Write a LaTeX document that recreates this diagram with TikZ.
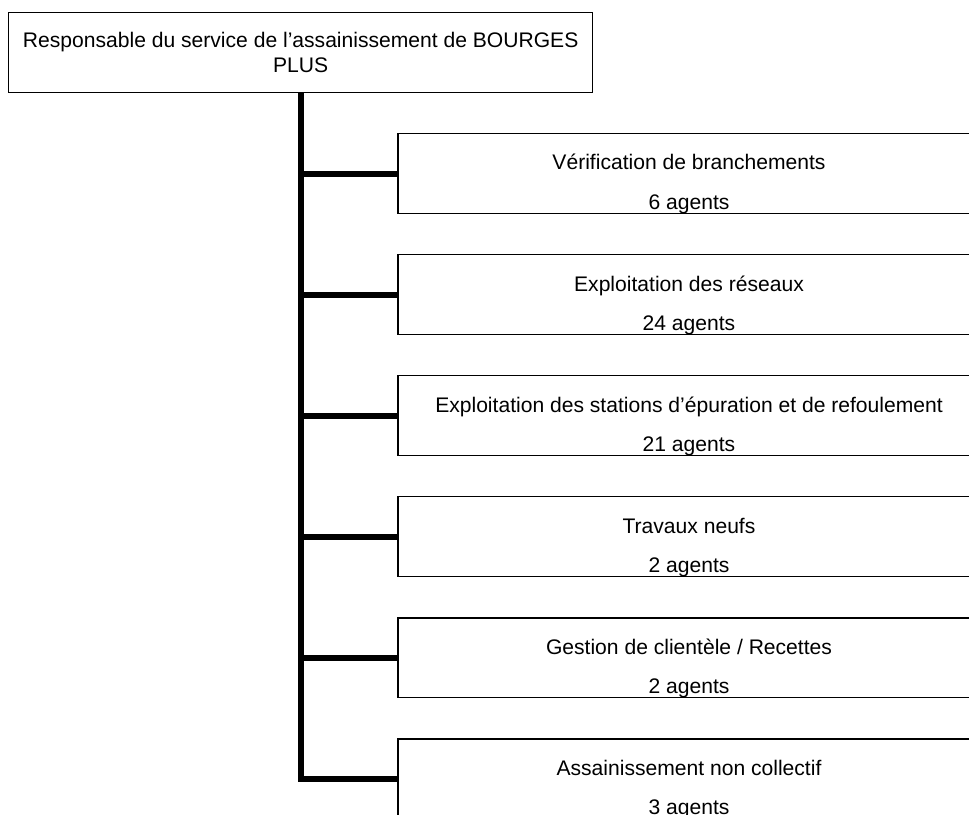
\documentclass[tikz,border=0pt]{standalone}
\usepackage{fontspec}
\setmainfont{Liberation Sans}
\begin{document}
\begin{tikzpicture}[x=0.02cm, y=-0.02cm, line join=miter,
    boite/.style={draw, line width=0.85pt, minimum width=11.68cm, minimum height=1.6cm, anchor=north west, inner sep=0pt},
    texte/.style={anchor=base, font=\fontsize{12}{14.2}\selectfont},
    tronc/.style={line width=3.4pt}]
    \useasboundingbox (0,0) rectangle (969,814);
    \clip (0,0) rectangle (969,814);
    % Responsable
    \node[boite, align=center, anchor=north west, font=\fontsize{12}{14.2}\selectfont] (resp) at (8,12)
        {Responsable du service de l’assainissement de BOURGES\\PLUS};
    % Services
    \node[boite] (b1) at (397,133) {};
    \node[texte] (t1) at (689,170) {Vérification de branchements};
    \node[texte] (a1) at (689,209) {6 agents};
    \node[boite] (b2) at (397,254) {};
    \node[texte] (t2) at (689,291) {Exploitation des réseaux};
    \node[texte] (a2) at (689,330) {24 agents};
    \node[boite] (b3) at (397,375) {};
    \node[texte] (t3) at (689,412) {Exploitation des stations d’épuration et de refoulement};
    \node[texte] (a3) at (689,451) {21 agents};
    \node[boite] (b4) at (397,496) {};
    \node[texte] (t4) at (689,533) {Travaux neufs};
    \node[texte] (a4) at (689,572) {2 agents};
    \node[boite] (b5) at (397,617) {};
    \node[texte] (t5) at (689,654) {Gestion de clientèle / Recettes};
    \node[texte] (a5) at (689,693) {2 agents};
    \node[boite] (b6) at (397,738) {};
    \node[texte] (t6) at (689,775) {Assainissement non collectif};
    \node[texte] (a6) at (689,814) {3 agents};
    % Tronc
    \draw[tronc] (resp.south) -- (resp.south |- b6.west) -- (b6.west);
    % Branches
    \draw[tronc] (resp.south |- b1.west) -- (b1.west);
    \draw[tronc] (resp.south |- b2.west) -- (b2.west);
    \draw[tronc] (resp.south |- b3.west) -- (b3.west);
    \draw[tronc] (resp.south |- b4.west) -- (b4.west);
    \draw[tronc] (resp.south |- b5.west) -- (b5.west);
\end{tikzpicture}
\end{document}
